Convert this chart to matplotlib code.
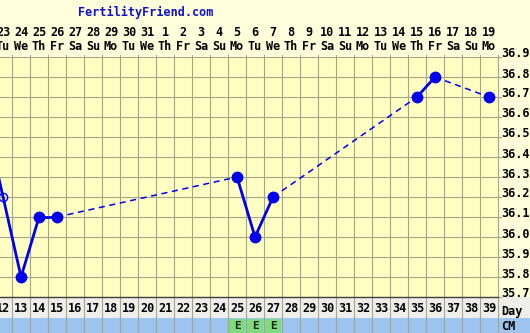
import matplotlib
matplotlib.use("Agg")
import matplotlib.pyplot as plt
import matplotlib.transforms as mtransforms
from matplotlib.patches import Rectangle

# ---- data ----
cycle_days = list(range(12, 40))
date_labels = [23, 24, 25, 26, 27, 28, 29, 30, 31, 1, 2, 3, 4, 5, 6, 7, 8, 9,
               10, 11, 12, 13, 14, 15, 16, 17, 18, 19]
weekday_labels = ["Tu", "We", "Th", "Fr", "Sa", "Su", "Mo"] * 4
temp_days = [11, 12, 13, 14, 15, 25, 26, 27, 35, 36, 39]
temps = [36.6, 36.2, 35.8, 36.1, 36.1, 36.3, 36.0, 36.2, 36.7, 36.8, 36.7]
discarded_days = [12]
cm_days = [25, 26, 27]
cm_labels = ["E", "E", "E"]
y_ticks = [35.7, 35.8, 35.9, 36.0, 36.1, 36.2, 36.3, 36.4, 36.5, 36.6, 36.7, 36.8, 36.9]

W, H = 530, 333
fig = plt.figure(figsize=(W / 100, H / 100), dpi=100, facecolor="#FFFFDC")

# plot area in pixels
left_px, right_px, top_px, bot_px = 0, 498, 57, 297
ax = fig.add_axes([left_px / W, 1 - bot_px / H, (right_px - left_px) / W, (bot_px - top_px) / H])
ax.set_facecolor("#FFFFC4")
ax.set_xlim(11.83, 39.5)
ax.set_ylim(35.7, 36.9)

grid_c = "#A8A488"
mono = "DejaVu Sans Mono"

# y gridlines + right ticks and labels
ax.set_yticks([])
ax.set_xticks([])
for s in ax.spines.values():
    s.set_visible(False)
ytr = mtransforms.blended_transform_factory(ax.transAxes, ax.transData)
lab_tr = ytr + mtransforms.ScaledTranslation(0, 3 / 100, fig.dpi_scale_trans)
for t in y_ticks:
    ax.axhline(t, color=grid_c, lw=0.8, zorder=1)
    ax.plot([1.0, 1.0 + 3 / (right_px - left_px)], [t, t], transform=ytr, color=grid_c,
            lw=0.8, clip_on=False)
    ax.text(1.0 + 3 / (right_px - left_px), t, f"{t:.1f}", transform=lab_tr, ha="left",
            va="center", fontfamily=mono, fontweight="bold", fontsize=8.5, clip_on=False)

tr = ax.get_xaxis_transform()
px_per_ax = bot_px - top_px

def ay(p):
    return (bot_px - p) / px_per_ax

# rows below plot: Day row and CM row
ax.add_patch(Rectangle((11.83 - 1, ay(318)), 40, ay(297) - ay(318), transform=tr,
                       facecolor="#EEEEEA", edgecolor="none", clip_on=False, zorder=0))
ax.add_patch(Rectangle((11.83 - 1, ay(334)), 40, ay(318) - ay(334), transform=tr,
                       facecolor="#9CC4EE", edgecolor="none", clip_on=False, zorder=0))
ax.plot([11.0, 39.5], [0, 0], transform=tr, color="#404040", lw=1.0, clip_on=False, zorder=3)

# vertical gridlines (column boundaries) through rows
for d in cycle_days:
    ax.plot([d - 0.5, d - 0.5], [ay(334), ay(55)], transform=tr, color=grid_c, lw=0.8,
            clip_on=False, zorder=1)
ax.plot([39.5, 39.5], [ay(334), ay(55)], transform=tr, color=grid_c, lw=0.8,
        clip_on=False, zorder=1)

# CM cells
for d, lab in zip(cm_days, cm_labels):
    ax.add_patch(Rectangle((d - 0.42, ay(333)), 0.84, ay(319) - ay(333), transform=tr,
                           facecolor="#7EDC7E", edgecolor="none", clip_on=False, zorder=2))
    ax.text(d, ay(326), lab, transform=tr, ha="center", va="center", fontfamily=mono,
            fontweight="bold", fontsize=8, color="#222222", clip_on=False, zorder=4)

# header and row labels
for d, dl, wd in zip(cycle_days, date_labels, weekday_labels):
    ax.text(d, ay(33), str(dl), transform=tr, ha="center", va="center", fontfamily=mono,
            fontweight="bold", fontsize=8.5, color="black", clip_on=False)
    ax.text(d, ay(46), wd, transform=tr, ha="center", va="center", fontfamily=mono,
            fontweight="bold", fontsize=8.5, color="black", clip_on=False)
    ax.text(d, ay(308), str(d), transform=tr, ha="center", va="center", fontfamily=mono,
            fontweight="bold", fontsize=8.5, color="black", clip_on=False)

fig.text(501 / W, 1 - 311 / H, "Day", ha="left", va="center", fontfamily=mono,
         fontweight="bold", fontsize=8.5)
fig.text(501 / W, 1 - 326 / H, "CM", ha="left", va="center", fontfamily=mono,
         fontweight="bold", fontsize=8.5)
fig.text(146 / W, 1 - 12 / H, "FertilityFriend.com", ha="center", va="center",
         fontfamily=mono, fontweight="bold", fontsize=8.5, color="#1010CC")

# temperature line
blue = "#0000EE"
kept = [(d, t) for d, t in zip(temp_days, temps) if d not in discarded_days]
for (d0, t0), (d1, t1) in zip(kept[:-1], kept[1:]):
    gap = [g for g in range(d0 + 1, d1) if g not in discarded_days]
    if gap:
        ax.plot([d0, d1], [t0, t1], color=blue, lw=1.1, ls=(0, (4, 3)), zorder=4)
    else:
        ax.plot([d0, d1], [t0, t1], color=blue, lw=2.0, zorder=4)
kd = [d for d, _ in kept]
kt = [t for _, t in kept]
ax.plot(kd, kt, ls="none", marker="o", ms=7.5, color=blue, zorder=5)
dd = [d for d in temp_days if d in discarded_days]
dt = [t for d, t in zip(temp_days, temps) if d in discarded_days]
ax.plot(dd, dt, ls="none", marker="o", ms=6, mfc="none", mec=blue, mew=1.0, zorder=5)

fig.savefig("out.png", dpi=100, facecolor=fig.get_facecolor())
